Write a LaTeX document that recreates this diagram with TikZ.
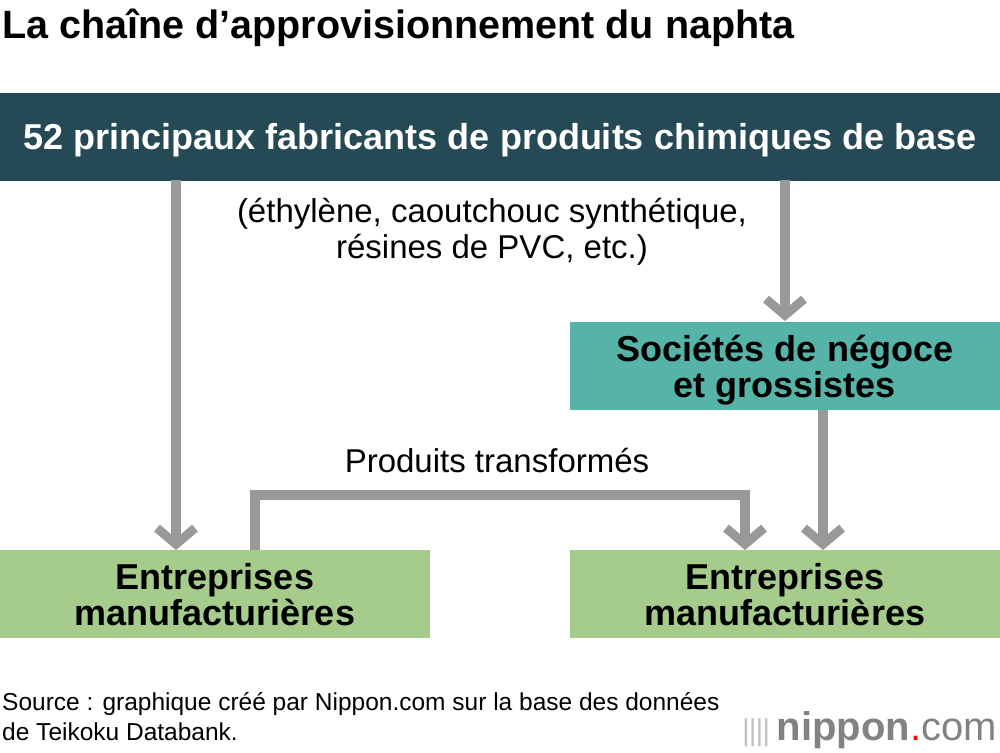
\documentclass[tikz,border=0pt]{standalone}
\usepackage{fontspec}
\setmainfont{Liberation Sans}
\usetikzlibrary{arrows.meta,positioning}
\definecolor{darkbox}{HTML}{264A55}
\definecolor{tradebox}{HTML}{56B3A7}
\definecolor{makerbox}{HTML}{A6CC8C}
\definecolor{flowgray}{HTML}{999999}
\begin{document}
\begin{tikzpicture}[x=1pt,y=-1pt,
  flow/.style={draw=flowgray,line width=10pt,-{Straight Barb[length=16pt,width=38pt,line width=9pt]}},
  box/.style={minimum height=88pt,inner sep=0pt,text depth=0pt,align=center,font=\fontsize{36}{36}\selectfont\bfseries},
  note/.style={align=center,font=\fontsize{33}{36}\selectfont}]
  \useasboundingbox (0,0) rectangle (1000,752);
  \node[anchor=base west,inner sep=0pt,font=\fontsize{39.5}{40}\selectfont\bfseries] (title) at (2,38) {La chaîne d’approvisionnement du naphta};

  \node[box,fill=darkbox,text=white,minimum width=1000pt] (base) at (500,136.5) {52 principaux fabricants de produits chimiques de base};
  \node[box,fill=tradebox,minimum width=430pt] (trade) at (785,366) {Sociétés de négoce\\et grossistes};
  \node[box,fill=makerbox,minimum width=430pt] (left) at (215,594) {Entreprises\\manufacturières};
  \node[box,fill=makerbox,minimum width=430pt] (right) at (785,594) {Entreprises\\manufacturières};

  \node[note] (chem) at (492,232) {(éthylène, caoutchouc synthétique,\\résines de PVC, etc.)};
  \node[note] (proc) at (497,461) {Produits transformés};

  \draw[flow] (176,180) -- (176,550);
  \draw[flow] (785,180) -- (785,321);
  \draw[flow] (823,410) -- (823,550);
  \draw[flow,line cap=butt] (255,550) -- (255,495) -- (745,495) -- (745,550);

  \node[anchor=base west,inner sep=0pt,align=left,font=\fontsize{24.5}{30}\selectfont] (source) at (2,740) {Source : graphique créé par Nippon.com sur la base des données\\de Teikoku Databank.};
  \node[anchor=base east,inner sep=0pt,text=flowgray!85!black,font=\fontsize{40}{40}\selectfont] (logo) at (997,740) {\textcolor{flowgray!60}{\fontsize{30}{30}\selectfont\textbar\kern-1pt\textbar\kern-1pt\textbar\kern-1pt\textbar}\,\textbf{nippon}\textcolor{red}{.}com};
\end{tikzpicture}
\end{document}
